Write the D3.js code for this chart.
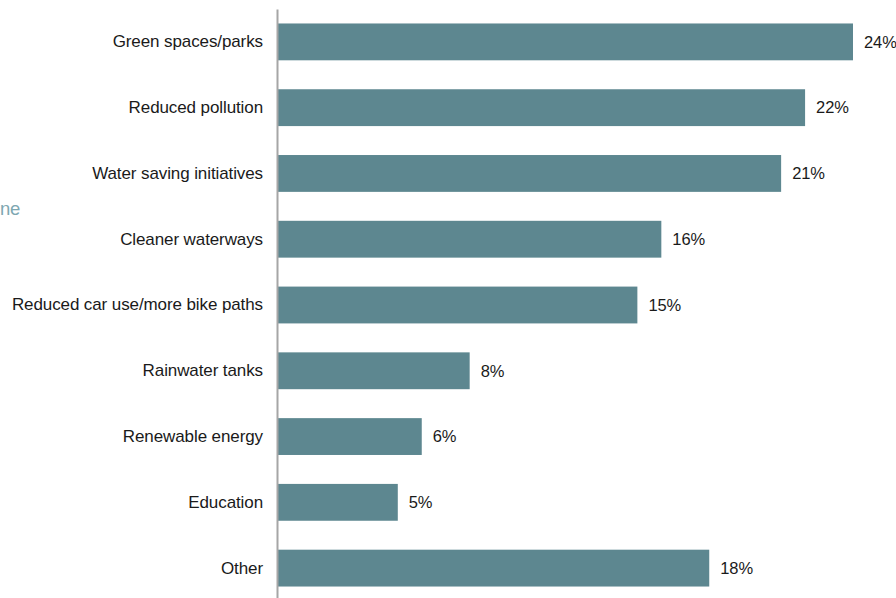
<!DOCTYPE html>
<html>
<head>
<meta charset="utf-8">
<script src="https://cdn.jsdelivr.net/npm/d3@7"></script>
<style>
  body { margin: 0; background: #fff; }
  svg text { font-family: "Liberation Sans", Arial, sans-serif; }
</style>
</head>
<body>
<div class="graph"></div>
<script>
// categories + values (percent)
let categories = ["Green spaces/parks", "Reduced pollution", "Water saving initiatives",
    "Cleaner waterways", "Reduced car use/more bike paths", "Rainwater tanks",
    "Renewable energy", "Education", "Other"];
let values = [24, 22, 21, 16, 15, 8, 6, 5, 18];
let valueLabels = ["24%", "22%", "21%", "16%", "15%", "8%", "6%", "5%", "18%"];

let width = 896, height = 598;
let axisX = 277;

let svg = d3.select(".graph").append("svg")
    .attr("width", width)
    .attr("height", height);

// leftover title fragment at the page edge
svg.append("text")
    .attr("x", 0)
    .attr("y", 215)
    .attr("font-size", 18.5)
    .attr("letter-spacing", -0.3)
    .attr("fill", "#7ea7b1")
    .text("ne");

let x = d3.scaleLinear()
    .domain([0, 24])
    .range([axisX + 1, axisX + 1 + 575]);

let y = d3.scaleBand()
    .domain(categories)
    .range([9, 601])
    .paddingInner(0.44)
    .paddingOuter(0.22);

let data = categories.map((c, i) => ({cat: c, val: values[i], lab: valueLabels[i]}));

svg.selectAll("rect.bar")
    .data(data)
    .join("rect")
    .attr("class", "bar")
    .attr("x", x(0))
    .attr("y", d => y(d.cat))
    .attr("width", d => x(d.val) - x(0))
    .attr("height", y.bandwidth())
    .attr("fill", "#5d8790");

svg.selectAll("text.val")
    .data(data)
    .join("text")
    .attr("class", "val")
    .attr("x", d => x(d.val) + 11)
    .attr("y", d => y(d.cat) + y.bandwidth() / 2)
    .attr("dy", "0.35em")
    .attr("font-size", 16.5)
    .attr("letter-spacing", -0.1)
    .attr("fill", "#1a1a1a")
    .text(d => d.lab);

let axis = svg.append("g")
    .attr("transform", "translate(" + axisX + ",0)")
    .call(d3.axisLeft(y).tickSize(0).tickPadding(14).tickSizeOuter(0));

axis.select(".domain")
    .attr("stroke", "#a6a6a6")
    .attr("stroke-width", 2);

axis.selectAll(".tick text")
    .attr("font-size", 17)
    .attr("letter-spacing", -0.1)
    .attr("font-family", "'Liberation Sans', Arial, sans-serif")
    .attr("fill", "#1a1a1a");
</script>
</body>
</html>
